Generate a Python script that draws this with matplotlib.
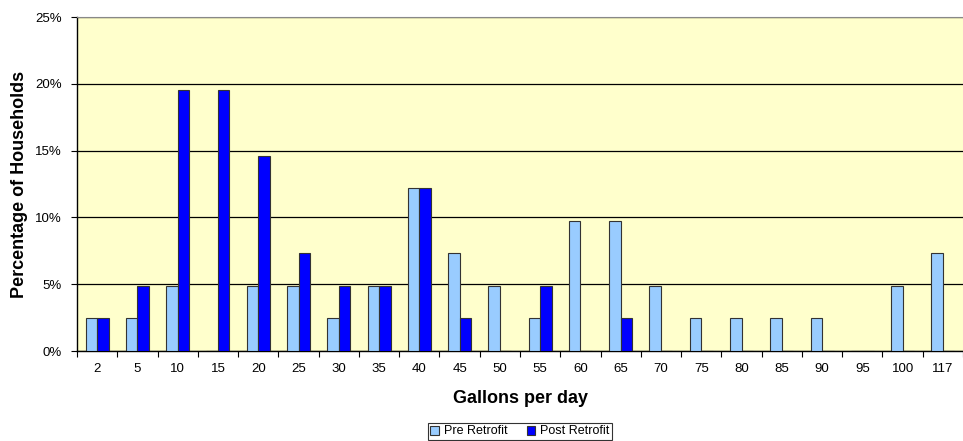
import numpy as np
import matplotlib.pyplot as plt
from matplotlib.ticker import FuncFormatter, FixedLocator

plt.rcParams['font.family'] = ['Liberation Sans', 'DejaVu Sans']

gallons = ['2', '5', '10', '15', '20', '25', '30', '35', '40', '45', '50',
           '55', '60', '65', '70', '75', '80', '85', '90', '95', '100', '117']
# shares of 41 households, in percent
pre_retrofit = [2.44, 2.44, 4.88, 0, 4.88, 4.88, 2.44, 4.88, 12.20, 7.32, 4.88,
                2.44, 9.76, 9.76, 4.88, 2.44, 2.44, 2.44, 2.44, 0, 4.88, 7.32]
post_retrofit = [2.44, 4.88, 19.51, 19.51, 14.63, 7.32, 4.88, 4.88, 12.20, 2.44, 0,
                 4.88, 0, 2.44, 0, 0, 0, 0, 0, 0, 0, 0]

fig = plt.figure(figsize=(9.63, 4.41), dpi=100)
ax = fig.add_axes([77 / 963, 90 / 441, 886 / 963, 334 / 441])
ax.set_facecolor('#FFFFCC')

x = np.arange(len(gallons))
w = 1 / 3.5
ax.bar(x - w / 2, pre_retrofit, w, color='#99CCFF', edgecolor='#333333',
       linewidth=0.8, label='Pre Retrofit', zorder=3)
ax.bar(x + w / 2, post_retrofit, w, color='#0000FF', edgecolor='#333333',
       linewidth=0.8, label='Post Retrofit', zorder=3)

ax.set_xlim(-0.5, len(gallons) - 0.5)
ax.set_ylim(0, 25)
ax.set_yticks([0, 5, 10, 15, 20, 25])
ax.yaxis.set_major_formatter(FuncFormatter(lambda v, p: f'{v:.0f}%'))
ax.yaxis.grid(True, color='black', linewidth=0.9, zorder=1)
ax.set_axisbelow(True)

ax.set_xticks(x)
ax.set_xticklabels(gallons)
ax.tick_params(axis='x', which='major', length=0, pad=9, labelsize=9.5)
ax.xaxis.set_minor_locator(FixedLocator(np.arange(-0.5, len(gallons), 1)))
ax.tick_params(axis='x', which='minor', length=4, width=0.8, direction='out')
ax.tick_params(axis='y', length=4, width=0.8, labelsize=9.5, pad=7)

for s in ['left', 'bottom']:
    ax.spines[s].set_color('black')
    ax.spines[s].set_linewidth(1)
ax.spines['top'].set_color('#888888')
ax.spines['right'].set_visible(False)

ax.set_xlabel('Gallons per day', fontsize=13, fontweight='bold')
ax.xaxis.set_label_coords(0.5, -0.118)
ax.set_ylabel('Percentage of Households', fontsize=13, fontweight='bold')
ax.yaxis.set_label_coords(-0.055, 0.5)

leg = fig.legend(loc='upper center', bbox_to_anchor=(520 / 963, 1 - 423 / 441),
                 ncol=2, fontsize=9, frameon=True, fancybox=False,
                 edgecolor='black', handlelength=0.7, handleheight=0.7,
                 handletextpad=0.4, columnspacing=1.5, borderpad=0.2,
                 borderaxespad=0)
leg.get_frame().set_linewidth(0.8)

fig.savefig('out.png', dpi=100)
